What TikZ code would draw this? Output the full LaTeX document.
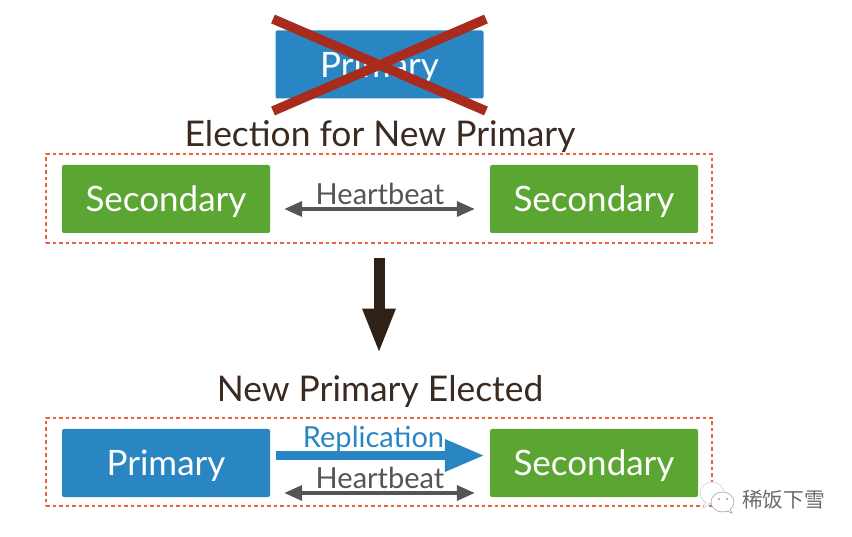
\documentclass[tikz,border=0pt]{standalone}
\usepackage{fontspec}
\setmainfont{Lato}
\newfontfamily\cjkfont{Noto Sans CJK SC}
\usetikzlibrary{arrows.meta}
\definecolor{bluebox}{HTML}{2A86C2}
\definecolor{greenbox}{HTML}{5BA632}
\definecolor{crossred}{HTML}{A82B1D}
\definecolor{dashred}{HTML}{E8603C}
\definecolor{titlebrown}{HTML}{3A2A20}
\definecolor{arrowbrown}{HTML}{2F2116}
\definecolor{beatgrey}{HTML}{565456}
\definecolor{wmgrey}{HTML}{6A6A6A}
\tikzset{
  x=1pt,y=-1pt,
  box/.style={minimum width=208pt,minimum height=68pt,rounded corners=2pt,inner sep=0pt,text=white,font=\fontsize{35}{35}\selectfont},
  bluenode/.style={box,fill=bluebox},
  greennode/.style={box,fill=greenbox},
  group/.style={draw=dashred,line width=2pt,dash pattern=on 3.5pt off 3pt,minimum width=666pt,minimum height=88.5pt,inner sep=0pt},
  titletext/.style={anchor=base,text=titlebrown,inner sep=0pt,font=\fontsize{35.4}{35.4}\selectfont},
  beattext/.style={anchor=base,text=beatgrey,inner sep=0pt,font=\fontsize{29}{29}\selectfont},
  reptext/.style={anchor=base,text=bluebox,inner sep=0pt,font=\fontsize{29}{29}\selectfont},
  beatarrow/.style={draw=beatgrey,line width=3.5pt,{Triangle[length=18pt,width=15pt]}-{Triangle[length=18pt,width=15pt]}},
  reparrow/.style={draw=bluebox,line width=9.5pt,-{Triangle[length=40pt,width=30pt]}},
  bigarrow/.style={draw=arrowbrown,line width=11pt,-{Triangle[length=45pt,width=30pt]}},
  crossline/.style={draw=crossred,line width=9.5pt},
  wmbubble/.style={draw=wmgrey!70,line width=0.5pt,fill=white},
}
\newcommand{\boxlabel}[1]{\raisebox{-13pt}[0pt][0pt]{#1}}
\begin{document}
\begin{tikzpicture}
\useasboundingbox (0,0) rectangle (852,537);
\fill[white] (0,0) rectangle (852,537);
% groups
\node[group] (g1) at (379,198.5) {};
\node[group] (g2) at (379,462) {};
% boxes
\node[bluenode] (p0) at (379.5,64.5) {\boxlabel{Primary}};
\node[greennode] (s1) at (166,199) {\boxlabel{Secondary}};
\node[greennode] (s2) at (594,199) {\boxlabel{Secondary}};
\node[bluenode] (p2) at (166,463) {\boxlabel{Primary}};
\node[greennode] (s3) at (594,463) {\boxlabel{Secondary}};
% cross
\coordinate (c1) at (273,19);
\coordinate (c2) at (486,111);
\coordinate (c3) at (486,19);
\coordinate (c4) at (273,111);
\draw[crossline] (c1) -- (c2);
\draw[crossline] (c3) -- (c4);
% titles
\node[titletext] (t1) at (380,147) {Election for New Primary};
\node[titletext] (t2) at (380,402) {New Primary Elected};
% connector labels
\node[beattext] (h1) at (380,205) {Heartbeat};
\node[reptext] (r) at (373.5,447) {Replication};
\node[beattext] (h2) at (380,488) {Heartbeat};
% connectors
\draw[beatarrow,shorten <=14pt,shorten >=15pt] ([yshift=-10pt]s1.east) -- ([yshift=-10pt]s2.west);
\draw[bigarrow,shorten <=14pt,shorten >=63pt] (g1.south) -- (g2.north);
\draw[reparrow,shorten <=6pt,shorten >=5pt] ([yshift=7.5pt]p2.east) -- ([yshift=7.5pt]s3.west);
\draw[beatarrow,shorten <=14pt,shorten >=15pt] ([yshift=-30pt]p2.east) -- ([yshift=-30pt]s3.west);
% watermark
\draw[wmbubble,draw=wmgrey!35] (712,493) circle[x radius=12,y radius=11];
\draw[wmbubble,draw=wmgrey!35] (705,503) -- (703,508) -- (710,504);
\draw[wmbubble] (722.5,502) circle[x radius=11.5,y radius=10];
\draw[wmbubble] (727,511) -- (732,513) -- (730,509);
\fill[wmgrey] (719,499) circle[radius=0.8] (727,499) circle[radius=0.8];
\node[anchor=base west,inner sep=0pt,text=wmgrey,font=\cjkfont\fontsize{20.7}{20.7}\selectfont] (wm) at (742,507) {稀饭下雪};
\end{tikzpicture}
\end{document}
